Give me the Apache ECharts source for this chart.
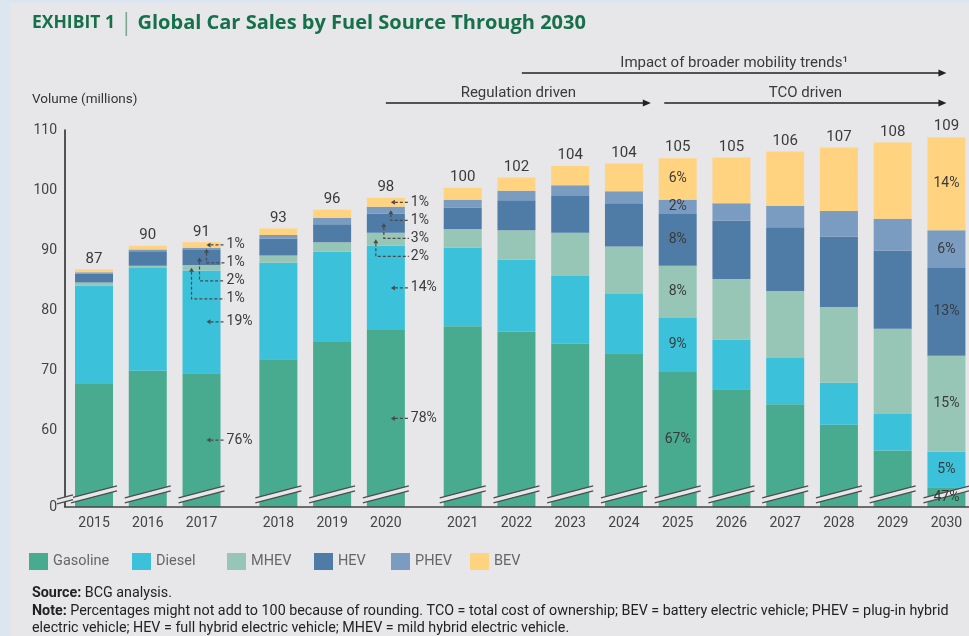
<!DOCTYPE html>
<html>
<head>
<meta charset="utf-8">
<title>Global Car Sales by Fuel Source Through 2030</title>
<script src="https://cdn.jsdelivr.net/npm/echarts@6/dist/echarts.min.js"></script>
<style>
  html, body { margin: 0; padding: 0; background: #e7e7e9; }
  #chart { width: 969px; height: 636px; }
</style>
</head>
<body>
<div id="chart"></div>
<script>
// data (millions of cars), stacked bottom to top
const years = ['2015', '2016', '2017', '2018', '2019', '2020', '2021', '2022',
  '2023', '2024', '2025', '2026', '2027', '2028', '2029', '2030'];
const totals = [87, 90, 91, 93, 96, 98, 100, 102, 104, 104, 105, 105, 106, 107, 108, 109];
const gasoline = [67.7, 69.9, 69.5, 71.8, 74.7, 76.7, 77.3, 76.4, 74.4, 72.8, 69.7, 66.8, 64.3, 60.9, 56.6, 50.5];
const diesel = [16.4, 17.1, 17.1, 16.1, 15.0, 14.0, 13.1, 12.0, 11.3, 9.9, 9.0, 8.3, 7.7, 7.0, 6.1, 5.9];
const mhev = [0.5, 0.4, 0.9, 1.2, 1.6, 2.2, 3.1, 4.9, 7.2, 7.9, 8.7, 10.1, 11.2, 12.6, 14.2, 16.0];
const hev = [1.5, 2.4, 2.5, 2.8, 3.0, 3.2, 3.6, 5.0, 6.1, 7.2, 8.6, 9.7, 10.6, 11.7, 13.0, 14.6];
const phev = [0.2, 0.3, 0.4, 0.6, 1.1, 1.1, 1.3, 1.6, 1.8, 2.0, 2.4, 2.9, 3.6, 4.3, 5.3, 6.3];
const bev = [0.5, 0.6, 0.9, 1.1, 1.3, 1.5, 2.0, 2.2, 3.2, 4.6, 6.9, 7.6, 9.0, 10.6, 12.7, 15.5];

// shares, same order as the stack (gasoline .. BEV)
const pct2017 = ['76%', '19%', '1%', '2%', '1%', '1%'];
const pct2020 = ['78%', '14%', '2%', '3%', '1%', '1%'];
const pct2025 = ['67%', '9%', '8%', '8%', '2%', '6%'];
const pct2030 = ['47%', '5%', '15%', '13%', '6%', '14%'];

const trendLabels = ['Impact of broader mobility trends\u00b9', 'Regulation driven', 'TCO driven'];
const trendFrom = [2022.1, 2020, 2024.75];
const trendTo = [2030, 2024.5, 2030];

const seriesNames = ['Gasoline', 'Diesel', 'MHEV', 'HEV', 'PHEV', 'BEV'];
const seriesValues = [gasoline, diesel, mhev, hev, phev, bev];
const colors = ['#48ab8f', '#3bc1d9', '#97c6b6', '#4f7ca7', '#7b9cc1', '#ffd37f'];

const leaderPct = { '2017': pct2017, '2020': pct2020 };
const insidePct = { '2025': pct2025, '2030': pct2030 };

// layout
const groupStarts = ['2018', '2021'];
const GROUP_GAP = 0.43;
const X_MIN = -0.54, X_MAX = 16.28;
const Y_MIN = 47.2, Y_MAX = 110, BREAK_VALUE = 49.3;
const FONT = 'Roboto';
const BG = '#e7e7e9';
const TEXT = '#3a3a3a';

const positions = years.map((y, i) => i + GROUP_GAP * groupStarts.filter(g => +y >= +g).length);

function posOfYear (yf) {
  let i = 0;
  while (i < years.length - 1 && +years[i + 1] <= yf) i++;
  return positions[i] + (yf - +years[i]);
}

function segment (i, s) {
  let lo = 0;
  for (let k = 0; k < s; k++) lo += seriesValues[k][i];
  return [lo, lo + seriesValues[s][i]];
}

function label (text, x, y, align, size) {
  return {
    type: 'text',
    style: {
      text: text, x: x, y: y, align: align || 'left', verticalAlign: 'middle',
      fontSize: size || 14, fontFamily: FONT, fill: TEXT
    }
  };
}

const dashStyle = { stroke: '#4a4a4a', lineWidth: 1.2, lineDash: [3, 2], fill: null };

function renderAnnotations (params, api) {
  const i = params.dataIndex;
  const x = api.value(0);
  const year = years[i];
  const children = [];
  const mid = s => {
    const b = segment(i, s);
    return api.coord([x, (Math.max(b[0], Y_MIN) + b[1]) / 2])[1];
  };
  const top = api.coord([x, segment(i, 5)[1]]);
  children.push({
    type: 'text',
    style: {
      text: String(totals[i]), x: top[0], y: top[1] - 3, align: 'center', verticalAlign: 'bottom',
      fontSize: 15, fontFamily: FONT, fill: TEXT
    }
  });
  if (insidePct[year]) {
    insidePct[year].forEach((t, s) => children.push(label(t, top[0], mid(s), 'center', 14)));
  }
  if (leaderPct[year]) {
    const cx = top[0];
    const lineEnd = cx + 23;
    const textX = cx + 25;
    const pcts = leaderPct[year];
    const horizontal = (s, y) => {
      children.push({ type: 'polyline', shape: { points: [[cx + 9, y], [lineEnd, y]] }, style: dashStyle });
      children.push({ type: 'polygon', shape: { points: [[cx + 5, y], [cx + 9, y - 2.5], [cx + 9, y + 2.5]] }, style: { fill: '#4a4a4a' } });
      children.push(label(pcts[s], textX, y));
    };
    const bevY = mid(5);
    horizontal(5, bevY);
    [[4, 5], [3, -2], [2, -10]].forEach((d, k) => {
      const s = d[0];
      const tx = cx + d[1];
      const ty = mid(s);
      const ly = bevY + 18 * (k + 1);
      children.push({ type: 'polyline', shape: { points: [[tx, ty + 4], [tx, ly], [lineEnd, ly]] }, style: dashStyle });
      children.push({ type: 'polygon', shape: { points: [[tx, ty], [tx - 2.5, ty + 4], [tx + 2.5, ty + 4]] }, style: { fill: '#4a4a4a' } });
      children.push(label(pcts[s], textX, ly));
    });
    horizontal(1, mid(1));
    horizontal(0, mid(0));
  }
  return { type: 'group', children: children };
}

function renderBreak (params, api) {
  const p = api.coord([api.value(0), BREAK_VALUE]);
  const isAxis = params.dataIndex === years.length;
  const half = isAxis ? 8 : 23;
  const dy = isAxis ? 2.2 : 6;
  const cy = isAxis ? p[1] + 5 : p[1];
  const x0 = p[0] - half, x1 = p[0] + half;
  const gap = 2.4;
  return {
    type: 'group',
    children: [
      { type: 'polygon', shape: { points: [[x0, cy + dy - gap], [x1, cy - dy - gap], [x1, cy - dy + gap], [x0, cy + dy + gap]] }, style: { fill: BG } },
      { type: 'line', shape: { x1: x0, y1: cy + dy - gap, x2: x1, y2: cy - dy - gap }, style: { stroke: '#4d4d4d', lineWidth: 1.3 } },
      { type: 'line', shape: { x1: x0, y1: cy + dy + gap, x2: x1, y2: cy - dy + gap }, style: { stroke: '#4d4d4d', lineWidth: 1.3 } }
    ]
  };
}

function renderTrend (params, api) {
  const i = params.dataIndex;
  const a = api.coord([api.value(0), Y_MAX]);
  const b = api.coord([api.value(1), Y_MAX]);
  const y = a[1] - (i === 0 ? 57 : 27);
  return {
    type: 'group',
    children: [
      { type: 'line', shape: { x1: a[0], y1: y, x2: b[0] - 6, y2: y }, style: { stroke: '#222', lineWidth: 1.3 } },
      { type: 'polygon', shape: { points: [[b[0], y], [b[0] - 8, y - 3.5], [b[0] - 8, y + 3.5]] }, style: { fill: '#222' } },
      {
        type: 'text',
        style: {
          text: trendLabels[i], x: (a[0] + b[0]) / 2, y: y - 10, align: 'center', verticalAlign: 'middle',
          fontSize: 15, fontFamily: FONT, fill: TEXT
        }
      }
    ]
  };
}

const legendLeft = [29, 132, 227, 314, 391, 470];

const option = {
  backgroundColor: BG,
  animation: false,
  color: colors,
  title: {
    left: 32,
    top: 12,
    padding: 0,
    text: '{a|EXHIBIT 1} {b||} {c|Global Car Sales by Fuel Source Through 2030}',
    textStyle: {
      rich: {
        a: { fontSize: 17.5, fontWeight: 'bold', fontFamily: 'Open Sans', color: '#16704b' },
        b: { fontSize: 23, fontWeight: 'normal', fontFamily: 'Open Sans', color: '#7aa792' },
        c: { fontSize: 20, fontWeight: 'bold', fontFamily: 'Open Sans', color: '#16704b' }
      }
    }
  },
  legend: seriesNames.map((n, k) => ({
    data: [n],
    left: legendLeft[k],
    top: 553,
    padding: 0,
    icon: 'rect',
    itemWidth: 19,
    itemHeight: 17,
    itemGap: 0,
    selectedMode: false,
    textStyle: { fontSize: 14.5, fontFamily: FONT, color: '#666' }
  })),
  grid: { left: 65, right: 0, top: 130, bottom: 129 },
  xAxis: {
    type: 'value',
    min: X_MIN,
    max: X_MAX,
    z: 5,
    axisLine: { onZero: false, lineStyle: { color: '#444', width: 1.5 } },
    axisTick: { show: false },
    splitLine: { show: false },
    axisLabel: {
      customValues: positions,
      margin: 9,
      fontSize: 14,
      fontFamily: FONT,
      color: '#444',
      formatter: v => years[positions.findIndex(p => Math.abs(p - v) < 0.01)] || ''
    }
  },
  yAxis: {
    type: 'value',
    min: Y_MIN,
    max: Y_MAX,
    axisLine: { show: true, onZero: false, lineStyle: { color: '#222', width: 1.5 } },
    axisTick: { show: false },
    splitLine: { show: false },
    axisLabel: {
      customValues: [Y_MIN, 60, 70, 80, 90, 100, 110],
      margin: 8,
      fontSize: 14,
      fontFamily: FONT,
      color: '#444',
      formatter: v => (v < 50 ? '0' : String(v))
    }
  },
  graphic: [
    { type: 'rect', left: 0, top: 0, shape: { width: 10, height: 636 }, style: { fill: '#dce6f1' } },
    { type: 'rect', left: 0, top: 0, shape: { width: 969, height: 3 }, style: { fill: '#dce6f1' } },
    {
      type: 'text', left: 32, top: 93,
      style: { text: 'Volume (millions)', fontSize: 13.5, fontFamily: FONT, fill: '#333' }
    },
    {
      type: 'text', left: 32, top: 585,
      style: {
        text: '{b|Source:} BCG analysis.\n{b|Note:} Percentages might not add to 100 because of rounding. TCO = total cost of ownership; BEV = battery electric vehicle; PHEV = plug-in hybrid\nelectric vehicle; HEV = full hybrid electric vehicle; MHEV = mild hybrid electric vehicle.',
        fontSize: 14.3, fontFamily: FONT, fill: '#222', lineHeight: 17.5,
        rich: { b: { fontSize: 14.3, fontFamily: FONT, fontWeight: 'bold', fill: '#222' } }
      }
    }
  ],
  // value first so the stack sums values; x position second
  series: seriesValues.map((vals, s) => ({
    name: seriesNames[s],
    type: 'bar',
    stack: 'volume',
    barWidth: 38,
    itemStyle: { color: colors[s] },
    encode: { x: 1, y: 0 },
    data: positions.map((x, i) => [vals[i], x])
  })).concat([
    {
      type: 'custom',
      z: 3,
      renderItem: renderBreak,
      data: positions.map(x => [x, BREAK_VALUE]).concat([[X_MIN, BREAK_VALUE]])
    },
    {
      type: 'custom',
      z: 4,
      renderItem: renderAnnotations,
      data: positions.map((x, i) => [x, segment(i, 5)[1]])
    },
    {
      type: 'custom',
      z: 4,
      renderItem: renderTrend,
      encode: { x: [0, 1] },
      data: trendLabels.map((t, k) => [posOfYear(trendFrom[k]), posOfYear(trendTo[k])])
    }
  ])
};

const chart = echarts.init(document.getElementById('chart'));
chart.setOption(option);
window.addEventListener('resize', () => chart.resize());
</script>
</body>
</html>
